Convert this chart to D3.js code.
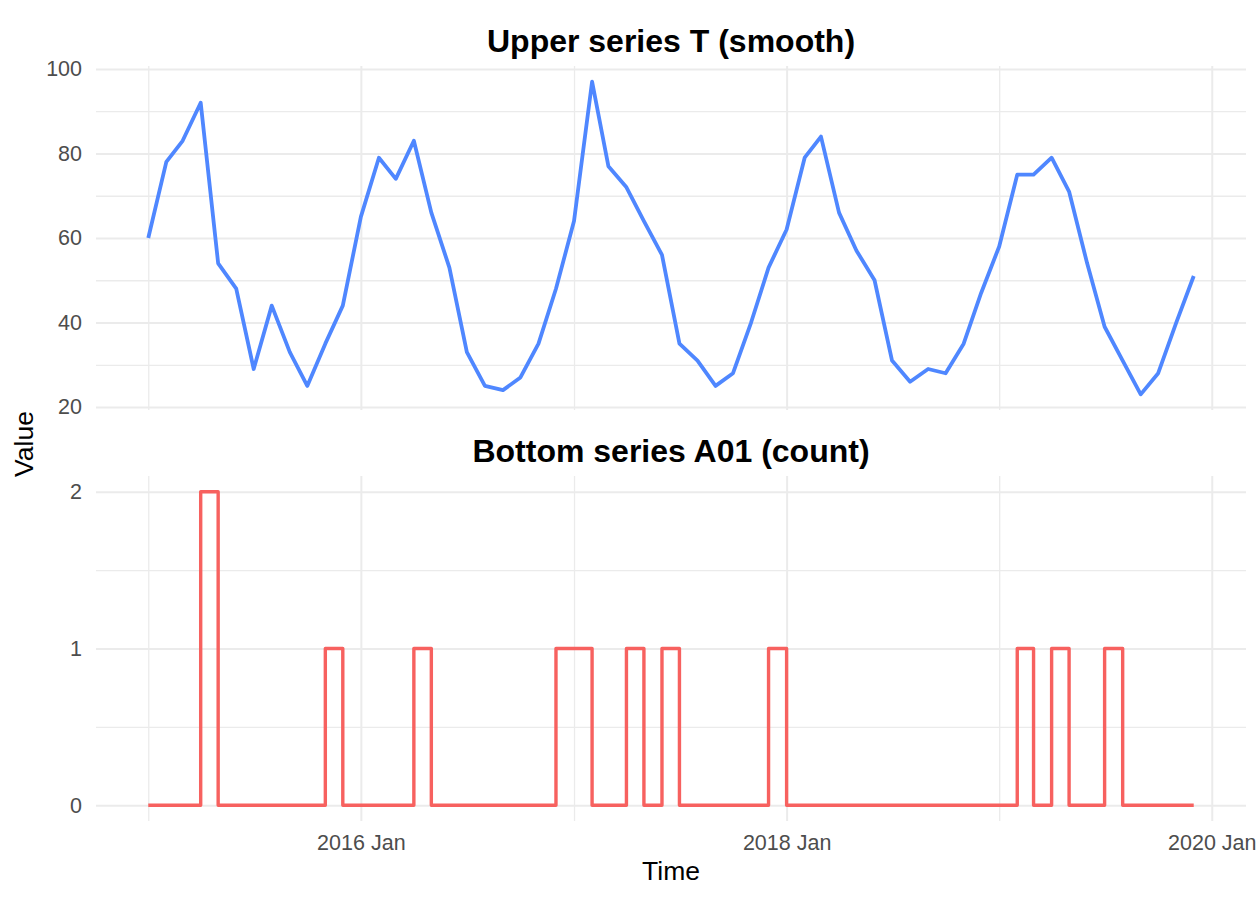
<!DOCTYPE html>
<html>
<head>
<meta charset="utf-8">
<script src="https://cdn.jsdelivr.net/npm/d3@7"></script>
<style>
body { margin: 0; background: #fff; }
text { font-family: "Liberation Sans", Arial, sans-serif; }
.grid .domain { display: none; }
.grid line { stroke: #ebebeb; }
.grid.major line { stroke-width: 2; }
.grid.minor line { stroke-width: 1.3; }
.axis .domain, .axis line { display: none; }
.axis text { fill: #4d4d4d; font-size: 21.5px; }
.title { font-size: 32px; font-weight: bold; fill: #000; }
.axis-title { font-size: 26.5px; fill: #000; }
</style>
</head>
<body>
<svg width="1260" height="900"></svg>
<script>
// monthly series, Jan 2015 to Dec 2019
var firstMonth = "2015-01", lastMonth = "2019-12";

var upperValues = [60, 78, 83, 92, 54, 48, 29, 44, 33, 25, 35, 44,
                   65, 79, 74, 83, 66, 53, 33, 25, 24, 27, 35, 48,
                   64, 97, 77, 72, 64, 56, 35, 31, 25, 28, 40, 53,
                   62, 79, 84, 66, 57, 50, 31, 26, 29, 28, 35, 47,
                   58, 75, 75, 79, 71, 54, 39, 31, 23, 28, 40, 51];

var bottomCounts = [0, 0, 0, 2, 0, 0, 0, 0, 0, 0, 1, 0,
                    0, 0, 0, 1, 0, 0, 0, 0, 0, 0, 0, 1,
                    1, 0, 0, 1, 0, 1, 0, 0, 0, 0, 0, 1,
                    0, 0, 0, 0, 0, 0, 0, 0, 0, 0, 0, 0,
                    0, 1, 0, 1, 0, 0, 1, 0, 0, 0, 0, 0];

var xMajorTicks = ["2016-01", "2018-01", "2020-01"],
    xMinorTicks = ["2015-01", "2017-01", "2019-01"];

var upperMajorTicks = [20, 40, 60, 80, 100],
    upperMinorTicks = [30, 50, 70, 90],
    bottomMajorTicks = [0, 1, 2],
    bottomMinorTicks = [0.5, 1.5];

var panelTitles = ["Upper series T (smooth)", "Bottom series A01 (count)"];

var parseMonth = d3.timeParse("%Y-%m"),
    formatMonth = d3.timeFormat("%Y %b");

var months = d3.timeMonth.range(parseMonth(firstMonth), d3.timeMonth.offset(parseMonth(lastMonth), 1));

var svg = d3.select("svg"),
    left = 96, right = 1246;

// ggplot style 5% expansion on a continuous scale
function expand(ext, mult) {
    var pad = (ext[1] - ext[0]) * mult;
    return [ext[0] - pad, ext[1] + pad];
}

var tExt = d3.extent(months, function(d) { return +d; });
var x = d3.scaleTime()
    .domain(expand(tExt, 0.05).map(function(t) { return new Date(t); }))
    .range([left, right]);

var panels = [
    {title: panelTitles[0], values: upperValues, top: 66, bottom: 410, titleY: 52,
     major: upperMajorTicks, minor: upperMinorTicks, color: "#4f87ff", width: 3.8, curve: d3.curveLinear},
    {title: panelTitles[1], values: bottomCounts, top: 476, bottom: 821, titleY: 462,
     major: bottomMajorTicks, minor: bottomMinorTicks, color: "#f7615f", width: 3.4, curve: d3.curveStepAfter}
];

panels.forEach(function(p) {
    var y = d3.scaleLinear()
        .domain(expand(d3.extent(p.values), 0.05))
        .range([p.bottom, p.top]);
    var h = p.bottom - p.top;

    // minor then major gridlines
    svg.append("g").attr("class", "grid minor")
        .attr("transform", "translate(" + left + ",0)")
        .call(d3.axisLeft(y).tickValues(p.minor).tickSize(-(right - left)).tickFormat(""));
    svg.append("g").attr("class", "grid minor")
        .attr("transform", "translate(0," + p.bottom + ")")
        .call(d3.axisBottom(x).tickValues(xMinorTicks.map(parseMonth)).tickSize(-h).tickFormat(""));
    svg.append("g").attr("class", "grid major")
        .attr("transform", "translate(" + left + ",0)")
        .call(d3.axisLeft(y).tickValues(p.major).tickSize(-(right - left)).tickFormat(""));
    svg.append("g").attr("class", "grid major")
        .attr("transform", "translate(0," + p.bottom + ")")
        .call(d3.axisBottom(x).tickValues(xMajorTicks.map(parseMonth)).tickSize(-h).tickFormat(""));

    // y tick labels
    svg.append("g").attr("class", "axis")
        .attr("transform", "translate(" + left + ",0)")
        .call(d3.axisLeft(y).tickValues(p.major).tickSize(0).tickPadding(14).tickFormat(d3.format("d")));

    var line = d3.line()
        .curve(p.curve)
        .x(function(d, i) { return x(months[i]); })
        .y(function(d) { return y(d); });

    svg.append("path")
        .datum(p.values)
        .attr("fill", "none")
        .attr("stroke", p.color)
        .attr("stroke-width", p.width)
        .attr("stroke-linejoin", "round")
        .attr("d", line);

    svg.append("text")
        .attr("class", "title")
        .attr("x", (left + right) / 2)
        .attr("y", p.titleY)
        .attr("text-anchor", "middle")
        .text(p.title);
});

// shared x axis under the bottom panel
svg.append("g").attr("class", "axis")
    .attr("transform", "translate(0,821)")
    .call(d3.axisBottom(x).tickValues(xMajorTicks.map(parseMonth)).tickSize(0).tickPadding(14).tickFormat(formatMonth));

svg.append("text")
    .attr("class", "axis-title")
    .attr("x", (left + right) / 2)
    .attr("y", 880)
    .attr("text-anchor", "middle")
    .text("Time");

svg.append("text")
    .attr("class", "axis-title")
    .attr("transform", "translate(33,444) rotate(-90)")
    .attr("text-anchor", "middle")
    .text("Value");
</script>
</body>
</html>
